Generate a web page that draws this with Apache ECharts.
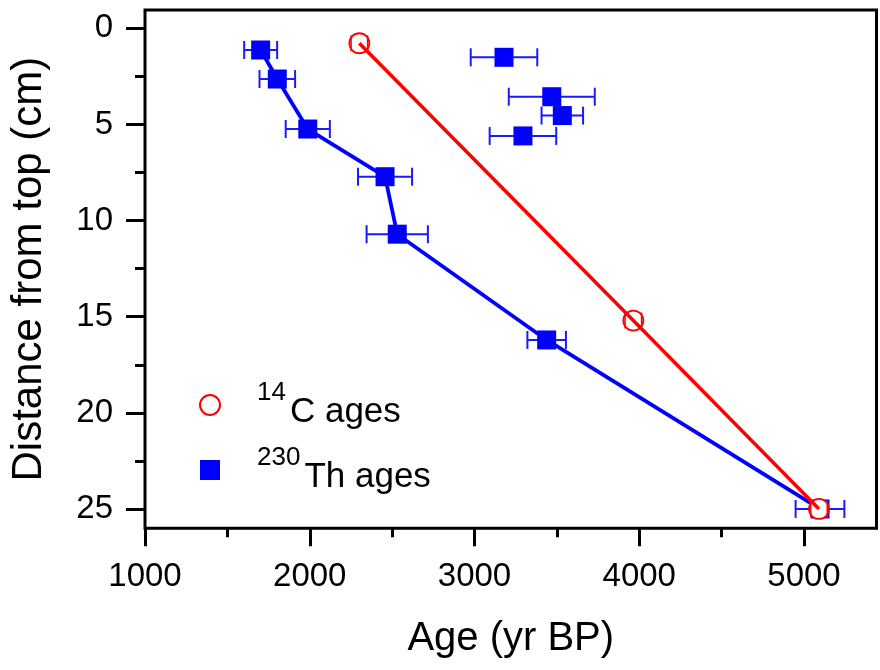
<!DOCTYPE html>
<html><head><meta charset="utf-8">
<script src="https://cdn.jsdelivr.net/npm/echarts@6/dist/echarts.min.js"></script>
<style>html,body{margin:0;padding:0;background:#fff}#c{width:880px;height:670px}</style>
</head><body><div id="c"></div>
<script>
// 230Th ages connected by line (age yr BP, depth cm, 1-sigma error yr)
const thAge   = [1702, 1803, 1988, 2457, 2531, 3438, 5097];
const thDepth = [1.13, 2.64, 5.24, 7.72, 10.71, 16.21, 25.0];
const thErr   = [100, 108, 134, 164, 186, 117, 148];
// 230Th ages not on line
const thOutAge   = [3179, 3469, 3533, 3294];
const thOutDepth = [1.51, 3.56, 4.54, 5.60];
const thOutErr   = [202, 261, 126, 202];
// 14C ages
const c14Age   = [2301, 3964, 5091];
const c14Depth = [0.78, 15.2, 25.0];
const c14Err   = [50, 50, 50];
// tick labels
const xTicks = [1000, 2000, 3000, 4000, 5000];
const yTicks = [0, 5, 10, 15, 20, 25];

const FONT = '"Liberation Sans", Arial, sans-serif';
const BLUE = '#0000ff', RED = '#ff0000';

const thLine = thAge.map((a, i) => [a, thDepth[i]]);
const thAllAge = thAge.concat(thOutAge);
const thAllDepth = thDepth.concat(thOutDepth);
const thAllErr = thErr.concat(thOutErr);
const thPts = thAllAge.map((a, i) => [a, thAllDepth[i], thAllErr[i]]);
const c14Pts = c14Age.map((a, i) => [a, c14Depth[i], c14Err[i]]);

function errBar(color, lw, cap, withBar) {
  return function (params, api) {
    const x = api.value(0), y = api.value(1), e = api.value(2);
    const lo = api.coord([x - e, y]);
    const hi = api.coord([x + e, y]);
    const st = { stroke: color, lineWidth: lw };
    const ch = [
      { type: 'line', shape: { x1: lo[0], y1: lo[1] - cap, x2: lo[0], y2: lo[1] + cap }, style: st },
      { type: 'line', shape: { x1: hi[0], y1: hi[1] - cap, x2: hi[0], y2: hi[1] + cap }, style: st }
    ];
    if (withBar) ch.push({ type: 'line', shape: { x1: lo[0], y1: lo[1], x2: hi[0], y2: hi[1] }, style: st });
    return { type: 'group', children: ch };
  };
}

const tickStyle = { color: '#000', width: 3 };
const chart = echarts.init(document.getElementById('c'), null, { renderer: 'canvas' });
chart.setOption({
  animation: false,
  backgroundColor: '#fff',
  textStyle: { fontFamily: FONT, color: '#000' },
  grid: [
    { left: 145, top: 10, width: 731.5, height: 518.2, show: true, borderColor: '#000', borderWidth: 3, backgroundColor: 'transparent' },
    { left: 145, top: 10, width: 659, height: 518.2 },
    { left: 145, top: 28.27, width: 731.5, height: 480.7 }
  ],
  xAxis: [
    { gridIndex: 0, type: 'value', min: 1000, max: 5440,
      axisLine: { show: false, onZero: false }, axisTick: { show: false }, axisLabel: { show: false }, splitLine: { show: false },
      name: 'Age (yr BP)', nameLocation: 'middle', nameGap: 91,
      nameTextStyle: { fontSize: 40, fontFamily: FONT, color: '#000' } },
    { gridIndex: 1, type: 'value', min: xTicks[0], max: xTicks[xTicks.length - 1], interval: 1000,
      axisLine: { show: false, onZero: false },
      axisTick: { show: true, length: 18, lineStyle: tickStyle },
      minorTick: { show: true, splitNumber: 2, length: 9, lineStyle: tickStyle },
      axisLabel: { fontSize: 33, margin: 32, color: '#000', fontFamily: FONT, formatter: v => String(v) },
      splitLine: { show: false }, minorSplitLine: { show: false } },
    { gridIndex: 2, type: 'value', show: false, min: 0, max: 1 }
  ],
  yAxis: [
    { gridIndex: 0, type: 'value', min: -0.95, max: 26, inverse: true,
      axisLine: { show: false, onZero: false }, axisTick: { show: false }, axisLabel: { show: false }, splitLine: { show: false },
      name: 'Distance from top (cm)', nameLocation: 'middle', nameGap: 95, nameRotate: 90,
      nameTextStyle: { fontSize: 42, fontFamily: FONT, color: '#000' } },
    { gridIndex: 1, type: 'value', show: false, min: 0, max: 1 },
    { gridIndex: 2, type: 'value', min: yTicks[0], max: yTicks[yTicks.length - 1], interval: 5, inverse: true,
      axisLine: { show: false, onZero: false },
      axisTick: { show: true, length: 19, lineStyle: tickStyle },
      minorTick: { show: true, splitNumber: 2, length: 10, lineStyle: tickStyle },
      axisLabel: { fontSize: 33, margin: 32, color: '#000', fontFamily: FONT, formatter: v => String(v) },
      splitLine: { show: false }, minorSplitLine: { show: false } }
  ],
  legend: {
    orient: 'vertical', left: 199, top: 380, padding: 0, itemWidth: 20, itemHeight: 20, itemGap: 15,
    data: ['14C ages', '230Th ages'],
    formatter: function (name) {
      return name === '14C ages' ? '{sup|14}{main|C ages}{pad| }' : '{sup|230}{main|Th ages}{pad| }';
    },
    textStyle: {
      fontFamily: FONT, color: '#000',
      rich: {
        sup: { fontSize: 26, lineHeight: 34, verticalAlign: 'top', padding: [0, 0, 0, 32], fontFamily: FONT, color: '#000' },
        main: { fontSize: 35, lineHeight: 44, verticalAlign: 'bottom', padding: [0, 0, 0, 4], fontFamily: FONT, color: '#000' },
        pad: { fontSize: 2, lineHeight: 50, fontFamily: FONT }
      }
    }
  },
  series: [
    { type: 'line', name: 'thLine', xAxisIndex: 0, yAxisIndex: 0, data: thLine, symbol: 'none',
      lineStyle: { color: BLUE, width: 3.8 }, z: 2, silent: true },
    { type: 'custom', name: 'thErr', xAxisIndex: 0, yAxisIndex: 0, data: thPts,
      renderItem: errBar('#1a1aff', 2, 9, true), z: 3, silent: true },
    { type: 'scatter', name: '230Th ages', xAxisIndex: 0, yAxisIndex: 0, data: thPts,
      symbol: 'rect', symbolSize: 19, itemStyle: { color: BLUE, opacity: 1 }, z: 4 },
    { type: 'scatter', name: '14C ages', xAxisIndex: 0, yAxisIndex: 0, data: c14Pts,
      symbol: 'circle', symbolSize: 20, itemStyle: { color: '#fff', borderColor: RED, borderWidth: 1.8, opacity: 1 }, z: 5 },
    { type: 'line', name: 'c14Line', xAxisIndex: 0, yAxisIndex: 0, data: c14Pts.map(p => [p[0], p[1]]), symbol: 'none',
      lineStyle: { color: RED, width: 3.5 }, z: 6, silent: true },
    { type: 'custom', name: 'c14Err', xAxisIndex: 0, yAxisIndex: 0, data: c14Pts,
      renderItem: errBar(RED, 1.5, 8, false), z: 7, silent: true }
  ]
});
</script>
</body></html>
